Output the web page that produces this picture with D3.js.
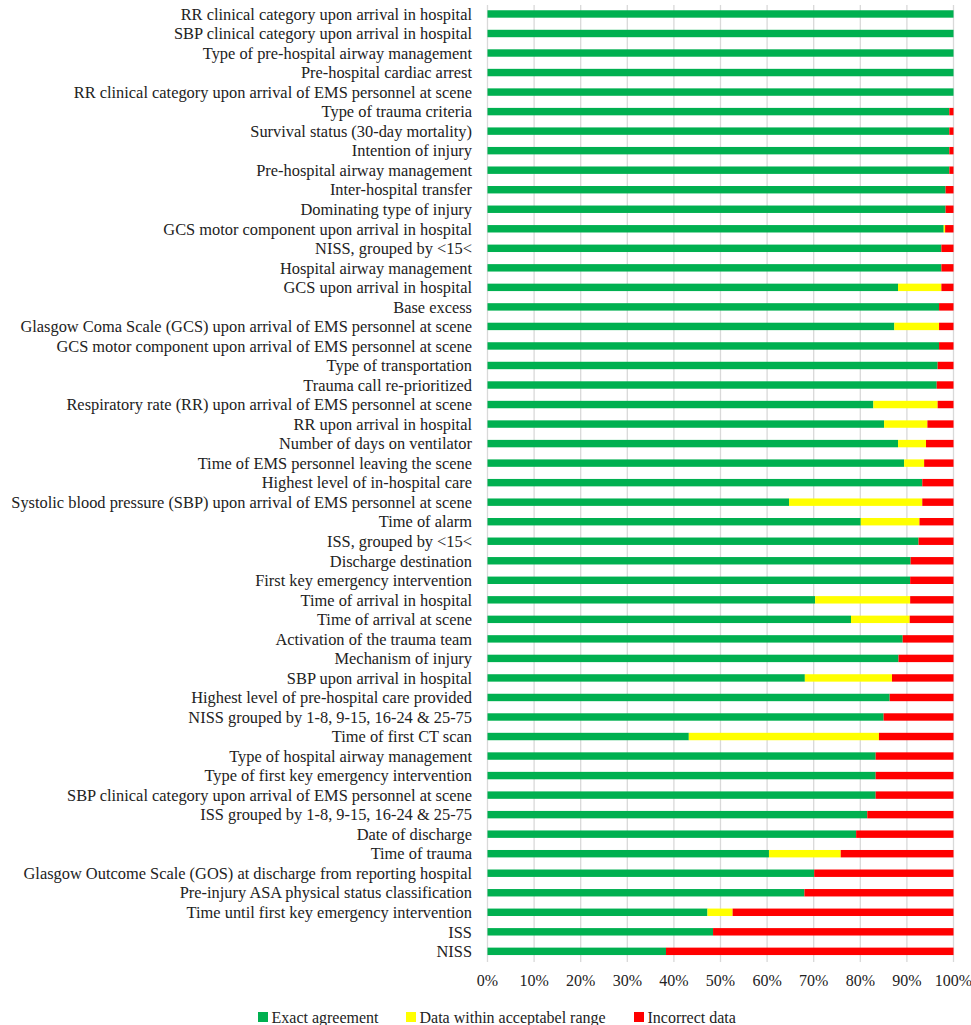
<!DOCTYPE html>
<html>
<head>
<meta charset="utf-8">
<script src="https://cdn.jsdelivr.net/npm/d3@7"></script>
<style>
  body { margin: 0; background: #fff; }
  svg text { font-family: "Liberation Serif", "DejaVu Serif", serif; fill: #222; }
</style>
</head>
<body>
<svg id="chart" width="971" height="1025"></svg>
<script>
// variables, top to bottom
const categories = [
  "RR clinical category upon arrival in hospital",
  "SBP clinical category upon arrival in hospital",
  "Type of pre-hospital airway management",
  "Pre-hospital cardiac arrest",
  "RR clinical category upon arrival of EMS personnel at scene",
  "Type of trauma criteria",
  "Survival status (30-day mortality)",
  "Intention of injury",
  "Pre-hospital airway management",
  "Inter-hospital transfer",
  "Dominating type of injury",
  "GCS motor component upon arrival in hospital",
  "NISS, grouped by <15<",
  "Hospital airway management",
  "GCS upon arrival in hospital",
  "Base excess",
  "Glasgow Coma Scale (GCS) upon arrival of EMS personnel at scene",
  "GCS motor component upon arrival of EMS personnel at scene",
  "Type of transportation",
  "Trauma call re-prioritized",
  "Respiratory rate (RR) upon arrival of EMS personnel at scene",
  "RR upon arrival in hospital",
  "Number of days on ventilator ",
  "Time of EMS personnel leaving the scene",
  "Highest level of in-hospital care",
  "Systolic blood pressure (SBP) upon arrival of EMS personnel at scene",
  "Time of alarm",
  "ISS, grouped by <15<",
  "Discharge destination",
  "First key emergency intervention",
  "Time of arrival in hospital",
  "Time of arrival at scene",
  "Activation of the trauma team",
  "Mechanism of injury",
  "SBP upon arrival in hospital",
  "Highest level of pre-hospital care provided",
  "NISS grouped by 1-8, 9-15, 16-24 & 25-75",
  "Time of first CT scan",
  "Type of hospital airway management",
  "Type of first key emergency intervention",
  "SBP clinical category upon arrival of EMS personnel at scene",
  "ISS grouped by 1-8, 9-15, 16-24 & 25-75",
  "Date of discharge",
  "Time of trauma",
  "Glasgow Outcome Scale (GOS) at discharge from reporting hospital",
  "Pre-injury ASA physical status classification",
  "Time until first key emergency intervention",
  "ISS",
  "NISS"
];

// percent values
const exactAgreement = [
  100, 100, 100, 100, 100, 99.1, 99.1, 99.1, 99.1, 98.3,
  98.3, 97.9, 97.4, 97.4, 88.1, 96.9, 87.3, 96.9, 96.6, 96.4,
  82.8, 85.1, 88.1, 89.4, 93.3, 64.7, 80.1, 92.5, 90.8, 90.7,
  70.3, 78.0, 89.1, 88.2, 68.1, 86.3, 85.0, 43.2, 83.3, 83.3,
  83.3, 81.5, 79.1, 60.4, 70.1, 68.0, 47.2, 48.4, 38.3
];
const withinRange = [
  0, 0, 0, 0, 0, 0, 0, 0, 0, 0,
  0, 0.3, 0, 0, 9.3, 0, 9.6, 0, 0, 0,
  13.8, 9.3, 6.0, 4.3, 0, 28.6, 12.6, 0, 0, 0,
  20.4, 12.6, 0, 0, 18.7, 0, 0, 40.8, 0, 0,
  0, 0, 0, 15.4, 0, 0, 5.4, 0, 0
];
const incorrect = exactAgreement.map((v, i) => Math.max(0, +(100 - v - withinRange[i]).toFixed(1)));

const seriesNames = ["Exact agreement", "Data within acceptabel range", "Incorrect data"];
const seriesColors = ["#00B050", "#FFFF00", "#FF0000"];
const tickValues = [0, 10, 20, 30, 40, 50, 60, 70, 80, 90, 100];

const rows = categories.map((c, i) => ({
  name: c,
  exact: exactAgreement[i],
  within: withinRange[i],
  incorrect: incorrect[i]
}));

const svg = d3.select("#chart");
const plotLeft = 487.5, plotRight = 953.5;
const plotTop = 4.2, plotBottom = 961.1;

const x = d3.scaleLinear().domain([0, 100]).range([plotLeft, plotRight]);
const y = d3.scaleBand()
  .domain(categories)
  .range([plotTop, plotBottom])
  .paddingInner(0.62)
  .paddingOuter(0.31);

// vertical gridlines
svg.append("g")
  .selectAll("line")
  .data(tickValues)
  .enter().append("line")
  .attr("x1", d => x(d))
  .attr("x2", d => x(d))
  .attr("y1", 5)
  .attr("y2", 962)
  .attr("stroke", "#d9d9d9")
  .attr("stroke-width", 1.3);

// stacked bars
const stack = d3.stack().keys(["exact", "within", "incorrect"]);
const layers = stack(rows);

svg.append("g")
  .selectAll("g")
  .data(layers)
  .enter().append("g")
  .attr("fill", (d, i) => seriesColors[i])
  .selectAll("rect")
  .data(d => d)
  .enter().append("rect")
  .attr("x", d => x(d[0]))
  .attr("width", d => Math.max(0, x(d[1]) - x(d[0])))
  .attr("y", d => y(d.data.name))
  .attr("height", y.bandwidth());

// category labels
svg.append("g")
  .selectAll("text")
  .data(categories)
  .enter().append("text")
  .attr("x", 472)
  .attr("y", d => y(d) + y.bandwidth() / 2)
  .attr("dy", "0.35em")
  .attr("text-anchor", "end")
  .attr("font-size", "16.4px")
  .text(d => d);

// x axis tick labels
svg.append("g")
  .selectAll("text")
  .data(tickValues)
  .enter().append("text")
  .attr("x", d => x(d))
  .attr("y", 986)
  .attr("text-anchor", "middle")
  .attr("font-size", "16px")
  .text(d => d + "%");

// legend
const legendX = [258, 406, 634];
const legend = svg.append("g")
  .selectAll("g")
  .data(seriesNames)
  .enter().append("g")
  .attr("transform", (d, i) => "translate(" + legendX[i] + ",1017)");

legend.append("rect")
  .attr("x", 0)
  .attr("y", -5)
  .attr("width", 10)
  .attr("height", 10)
  .attr("fill", (d, i) => seriesColors[i]);

legend.append("text")
  .attr("x", 13.5)
  .attr("y", 0)
  .attr("dy", "0.35em")
  .attr("font-size", "16px")
  .text(d => d);
</script>
</body>
</html>
